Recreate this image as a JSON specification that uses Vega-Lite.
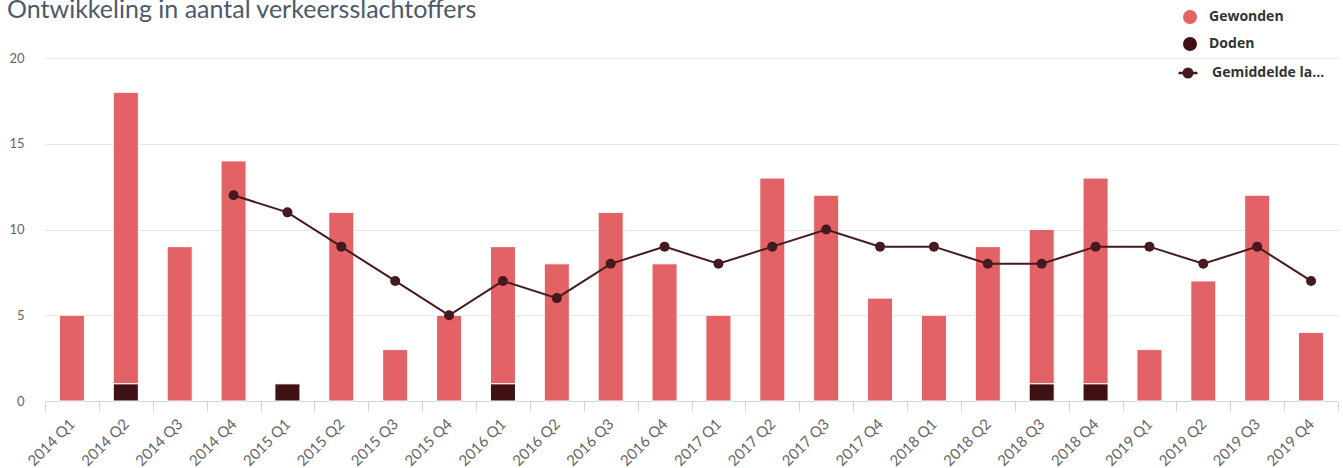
{
  "$schema": "https://vega.github.io/schema/vega-lite/v6.json",
  "autosize": {"type": "none"},
  "width": 1293,
  "height": 343,
  "padding": {"left": 45, "top": 58, "right": 5, "bottom": 67},
  "background": "white",
  "config": {
    "view": {"stroke": null},
    "font": "Lato",
    "axis": {"labelFont": "Lato", "labelColor": "#666666", "labelFontSize": 13},
    "legend": {"labelFont": "Open Sans", "labelFontWeight": "bold", "labelFontSize": 14, "labelColor": "#333333", "padding": 0}
  },
  "title": {
    "text": "Ontwikkeling in aantal verkeersslachtoffers",
    "anchor": "start",
    "frame": "group",
    "dx": -38,
    "dy": 33,
    "offset": 0,
    "baseline": "alphabetic",
    "font": "Lato",
    "fontSize": 25,
    "fontWeight": "normal",
    "color": "#4a5a6b"
  },
  "datasets": {
    "slachtoffers": [
      {"kwartaal": "2014 Q1", "type": "Gewonden", "aantal": 5},
      {"kwartaal": "2014 Q2", "type": "Gewonden", "aantal": 17},
      {"kwartaal": "2014 Q2", "type": "Doden", "aantal": 1},
      {"kwartaal": "2014 Q3", "type": "Gewonden", "aantal": 9},
      {"kwartaal": "2014 Q4", "type": "Gewonden", "aantal": 14},
      {"kwartaal": "2015 Q1", "type": "Doden", "aantal": 1},
      {"kwartaal": "2015 Q2", "type": "Gewonden", "aantal": 11},
      {"kwartaal": "2015 Q3", "type": "Gewonden", "aantal": 3},
      {"kwartaal": "2015 Q4", "type": "Gewonden", "aantal": 5},
      {"kwartaal": "2016 Q1", "type": "Gewonden", "aantal": 8},
      {"kwartaal": "2016 Q1", "type": "Doden", "aantal": 1},
      {"kwartaal": "2016 Q2", "type": "Gewonden", "aantal": 8},
      {"kwartaal": "2016 Q3", "type": "Gewonden", "aantal": 11},
      {"kwartaal": "2016 Q4", "type": "Gewonden", "aantal": 8},
      {"kwartaal": "2017 Q1", "type": "Gewonden", "aantal": 5},
      {"kwartaal": "2017 Q2", "type": "Gewonden", "aantal": 13},
      {"kwartaal": "2017 Q3", "type": "Gewonden", "aantal": 12},
      {"kwartaal": "2017 Q4", "type": "Gewonden", "aantal": 6},
      {"kwartaal": "2018 Q1", "type": "Gewonden", "aantal": 5},
      {"kwartaal": "2018 Q2", "type": "Gewonden", "aantal": 9},
      {"kwartaal": "2018 Q3", "type": "Gewonden", "aantal": 9},
      {"kwartaal": "2018 Q3", "type": "Doden", "aantal": 1},
      {"kwartaal": "2018 Q4", "type": "Gewonden", "aantal": 12},
      {"kwartaal": "2018 Q4", "type": "Doden", "aantal": 1},
      {"kwartaal": "2019 Q1", "type": "Gewonden", "aantal": 3},
      {"kwartaal": "2019 Q2", "type": "Gewonden", "aantal": 7},
      {"kwartaal": "2019 Q3", "type": "Gewonden", "aantal": 12},
      {"kwartaal": "2019 Q4", "type": "Gewonden", "aantal": 4}
    ],
    "gemiddelde": [
      {"kwartaal": "2014 Q4", "reeks": "Gemiddelde la...", "waarde": 12},
      {"kwartaal": "2015 Q1", "reeks": "Gemiddelde la...", "waarde": 11},
      {"kwartaal": "2015 Q2", "reeks": "Gemiddelde la...", "waarde": 9},
      {"kwartaal": "2015 Q3", "reeks": "Gemiddelde la...", "waarde": 7},
      {"kwartaal": "2015 Q4", "reeks": "Gemiddelde la...", "waarde": 5},
      {"kwartaal": "2016 Q1", "reeks": "Gemiddelde la...", "waarde": 7},
      {"kwartaal": "2016 Q2", "reeks": "Gemiddelde la...", "waarde": 6},
      {"kwartaal": "2016 Q3", "reeks": "Gemiddelde la...", "waarde": 8},
      {"kwartaal": "2016 Q4", "reeks": "Gemiddelde la...", "waarde": 9},
      {"kwartaal": "2017 Q1", "reeks": "Gemiddelde la...", "waarde": 8},
      {"kwartaal": "2017 Q2", "reeks": "Gemiddelde la...", "waarde": 9},
      {"kwartaal": "2017 Q3", "reeks": "Gemiddelde la...", "waarde": 10},
      {"kwartaal": "2017 Q4", "reeks": "Gemiddelde la...", "waarde": 9},
      {"kwartaal": "2018 Q1", "reeks": "Gemiddelde la...", "waarde": 9},
      {"kwartaal": "2018 Q2", "reeks": "Gemiddelde la...", "waarde": 8},
      {"kwartaal": "2018 Q3", "reeks": "Gemiddelde la...", "waarde": 8},
      {"kwartaal": "2018 Q4", "reeks": "Gemiddelde la...", "waarde": 9},
      {"kwartaal": "2019 Q1", "reeks": "Gemiddelde la...", "waarde": 9},
      {"kwartaal": "2019 Q2", "reeks": "Gemiddelde la...", "waarde": 8},
      {"kwartaal": "2019 Q3", "reeks": "Gemiddelde la...", "waarde": 9},
      {"kwartaal": "2019 Q4", "reeks": "Gemiddelde la...", "waarde": 7}
    ]
  },
  "encoding": {
    "x": {
      "field": "kwartaal",
      "type": "nominal",
      "scale": {
        "domain": ["2014 Q1","2014 Q2","2014 Q3","2014 Q4","2015 Q1","2015 Q2","2015 Q3","2015 Q4","2016 Q1","2016 Q2","2016 Q3","2016 Q4","2017 Q1","2017 Q2","2017 Q3","2017 Q4","2018 Q1","2018 Q2","2018 Q3","2018 Q4","2019 Q1","2019 Q2","2019 Q3","2019 Q4"],
        "paddingInner": 0,
        "paddingOuter": 0
      },
      "axis": {
        "title": null,
        "tickBand": "extent",
        "domainColor": "#ccd6eb",
        "tickColor": "#ccd6eb",
        "tickSize": 10,
        "labelAngle": -45,
        "labelAlign": "right",
        "labelBaseline": "middle",
        "labelPadding": 10,
        "labelFontSize": 15,
        "grid": false
      }
    }
  },
  "layer": [
    {
      "data": {"name": "slachtoffers"},
      "mark": {"type": "bar", "width": {"band": 0.465}, "stroke": "white", "strokeWidth": 1},
      "encoding": {
        "y": {
          "field": "aantal",
          "type": "quantitative",
          "stack": "zero",
          "scale": {"domain": [0, 20], "nice": false},
          "axis": {
            "title": null,
            "values": [0, 5, 10, 15, 20],
            "domain": false,
            "ticks": false,
            "labelPadding": 21,
            "gridColor": "#e6e6e6",
            "gridWidth": 1
          }
        },
        "color": {
          "field": "type",
          "type": "nominal",
          "scale": {"domain": ["Gewonden", "Doden"], "range": ["#e36265", "#3f1114"]},
          "legend": {
            "title": null,
            "orient": "none",
            "legendX": 1138,
            "legendY": -48,
            "symbolType": "circle",
            "symbolSize": 196,
            "symbolStrokeWidth": 0,
            "labelOffset": 12,
            "rowPadding": 13
          }
        },
        "order": {"field": "type", "sort": "ascending"}
      }
    },
    {
      "data": {"name": "gemiddelde"},
      "layer": [
        {
          "mark": {"type": "line", "color": "#451a1f", "strokeWidth": 2},
          "encoding": {
            "y": {"field": "waarde", "type": "quantitative"}
          }
        },
        {
          "mark": {"type": "point", "filled": true, "opacity": 1, "size": 100},
          "encoding": {
            "y": {"field": "waarde", "type": "quantitative"},
            "color": {
              "field": "reeks",
              "type": "nominal",
              "scale": {"range": ["#451a1f"]},
              "legend": {
                "title": null,
                "orient": "none",
                "legendX": 1132,
                "legendY": 4,
                "symbolType": "M-1,0L1,0M-0.45,0A0.45,0.45 0 1,0 0.45,0A0.45,0.45 0 1,0 -0.45,0Z",
                "symbolSize": 361,
                "symbolStrokeColor": "#451a1f",
                "symbolFillColor": "#451a1f",
                "symbolStrokeWidth": 2.5,
                "labelOffset": 13,
                "labelLimit": 200
              }
            }
          }
        }
      ]
    }
  ],
  "resolve": {"scale": {"color": "independent"}}
}
